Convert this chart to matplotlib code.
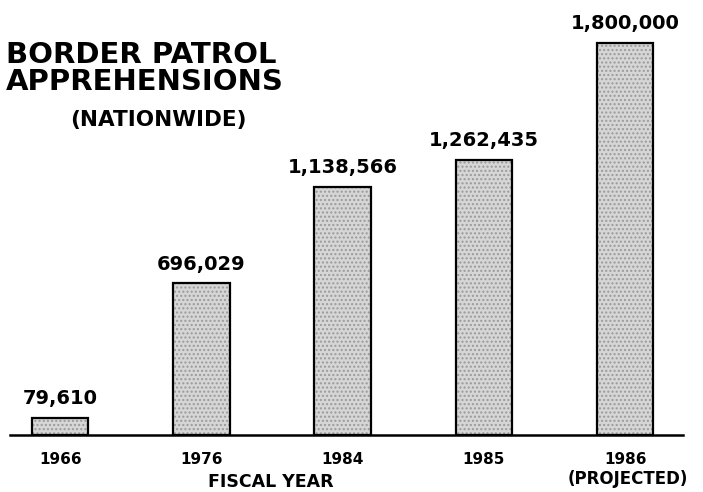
import matplotlib
matplotlib.use('Agg')
import matplotlib.pyplot as plt

years = ['1966', '1976', '1984', '1985', '1986']
apprehensions = [79610, 696029, 1138566, 1262435, 1800000]
value_labels = ['79,610', '696,029', '1,138,566', '1,262,435', '1,800,000']

W, H = 703, 492
fig = plt.figure(figsize=(W / 100, H / 100), dpi=100)

# axes: baseline at y=435 px, runs from x=10 to x=683 px
ax = fig.add_axes([10 / W, (H - 435) / H, 673 / W, 435 / H])
x = list(range(len(years)))
ax.set_xlim(-0.355, 4.41)
ax.set_ylim(0, 1800000 * 435 / 392)

# stippled fill, then black outline on top
ax.bar(x, apprehensions, width=0.4, color='#d6d6d6', edgecolor='#9a9a9a',
       hatch='....', linewidth=0, zorder=2)
ax.bar(x, apprehensions, width=0.4, fill=False, edgecolor='black',
       linewidth=1.6, zorder=3)

for xi, v, lab in zip(x, apprehensions, value_labels):
    ax.annotate(lab, (xi, v), xytext=(0, 10), textcoords='offset points',
                ha='center', va='baseline', fontsize=14, fontweight='bold')

for s in ['top', 'left', 'right']:
    ax.spines[s].set_visible(False)
ax.spines['bottom'].set_linewidth(1.8)
ax.set_yticks([])
ax.set_xticks(x)
ax.set_xticklabels(years, fontsize=11, fontweight='bold')
ax.tick_params(axis='x', length=0, pad=12)

def fy(py):
    return 1 - py / H

fig.text(6 / W, fy(63), 'BORDER PATROL', fontsize=21, fontweight='bold',
         va='baseline', ha='left')
fig.text(6 / W, fy(90), 'APPREHENSIONS', fontsize=21, fontweight='bold',
         va='baseline', ha='left')
fig.text(158 / W, fy(126), '(NATIONWIDE)', fontsize=15.5, fontweight='bold',
         va='baseline', ha='center')

fig.text(271 / W, fy(487), 'FISCAL YEAR', fontsize=12.5, fontweight='bold',
         va='baseline', ha='center')
fig.text(628 / W, fy(484), '(PROJECTED)', fontsize=12, fontweight='bold',
         va='baseline', ha='center')

fig.savefig('out.png', dpi=100)
